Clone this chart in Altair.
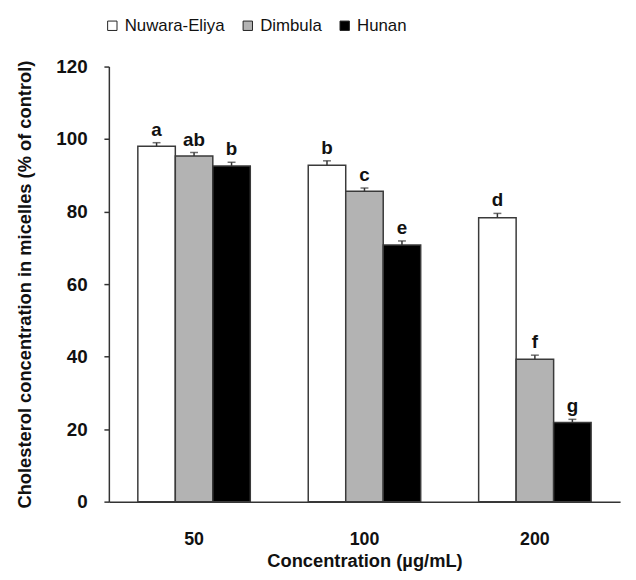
import altair as alt
import pandas as pd

concentrations = ["50", "100", "200"]
varieties = ["Nuwara-Eliya", "Dimbula", "Hunan"]
values = {
    "Nuwara-Eliya": [98.0, 92.8, 78.3],
    "Dimbula": [95.3, 85.6, 39.3],
    "Hunan": [92.6, 70.8, 21.8],
}
errors = {
    "Nuwara-Eliya": [1.0, 1.2, 1.2],
    "Dimbula": [1.0, 0.9, 1.1],
    "Hunan": [1.0, 1.1, 0.9],
}
letters = {
    "Nuwara-Eliya": ["a", "b", "d"],
    "Dimbula": ["ab", "c", "f"],
    "Hunan": ["b", "e", "g"],
}
colors = ["#ffffff", "#b3b3b3", "#000000"]

rows = []
for v in varieties:
    for i, c in enumerate(concentrations):
        rows.append({
            "conc": c,
            "variety": v,
            "value": values[v][i],
            "top": values[v][i] + errors[v][i],
            "letter": letters[v][i],
        })
df = pd.DataFrame(rows)

FONT = "Liberation Sans"

x = alt.X("conc:N", sort=concentrations, title="Concentration (µg/mL)",
          scale=alt.Scale(paddingInner=0.34, paddingOuter=0.17),
          axis=alt.Axis(labelAngle=0, ticks=False, labelPadding=29,
                        labelFontSize=18, labelFontWeight="bold",
                        titleFontSize=18.5, titleFontWeight="bold",
                        titleY=66, titleBaseline="alphabetic",
                        domainColor="#333333",
                        domainWidth=1.5, labelColor="#111111",
                        titleColor="#111111"))
xo = alt.XOffset("variety:N", sort=varieties,
                 scale=alt.Scale(paddingInner=0, paddingOuter=0))

bars = alt.Chart(df).mark_bar(stroke="#3a3a3a", strokeWidth=1.5).encode(
    x=x,
    xOffset=xo,
    y=alt.Y("value:Q", title="Cholesterol concentration in micelles (% of control)",
            scale=alt.Scale(domain=[0, 120], nice=False),
            axis=alt.Axis(values=[0, 20, 40, 60, 80, 100, 120], grid=False,
                          tickSize=5, tickColor="#333333", tickWidth=1.5,
                          labelPadding=17, labelFontSize=19,
                          labelFontWeight="bold", titleFontSize=18.5,
                          titleFontWeight="bold", titleAngle=270,
                          titleBaseline="alphabetic", titleX=-79, titleY=220,
                          titleAlign="center",
                          domainColor="#333333", domainWidth=1.5,
                          labelColor="#111111", titleColor="#111111")),
    fill=alt.Fill("variety:N", sort=varieties,
                  scale=alt.Scale(domain=varieties, range=colors),
                  legend=alt.Legend(title=None, orient="none", direction="horizontal",
                                    legendX=-5, legendY=-50, symbolType="square",
                                    symbolSize=90, symbolStrokeColor="#222222",
                                    symbolStrokeWidth=1, labelFontSize=17,
                                    labelOffset=4, columnPadding=14,
                                    labelColor="#111111")),
)

err = alt.Chart(df).mark_rule(color="#333333", strokeWidth=1.5).encode(
    x=alt.X("conc:N", sort=concentrations),
    xOffset=xo,
    y="value:Q",
    y2="top:Q",
)
caps = alt.Chart(df).mark_tick(color="#333333", thickness=1.5, size=8).encode(
    x=alt.X("conc:N", sort=concentrations),
    xOffset=xo,
    y="top:Q",
)
labels = alt.Chart(df).mark_text(fontSize=19, fontWeight="bold", dy=-13,
                                 color="#111111", font=FONT).encode(
    x=alt.X("conc:N", sort=concentrations),
    xOffset=xo,
    y="top:Q",
    text="letter:N",
)

chart = alt.layer(bars, err, caps, labels).properties(
    width=517, height=440,
    autosize=alt.AutoSizeParams(type="none"),
    padding={"left": 102, "top": 56, "right": 8, "bottom": 74},
).configure(font=FONT).configure_view(stroke=None)

chart.save("out.html", embed_options={"renderer": "svg", "actions": False})
